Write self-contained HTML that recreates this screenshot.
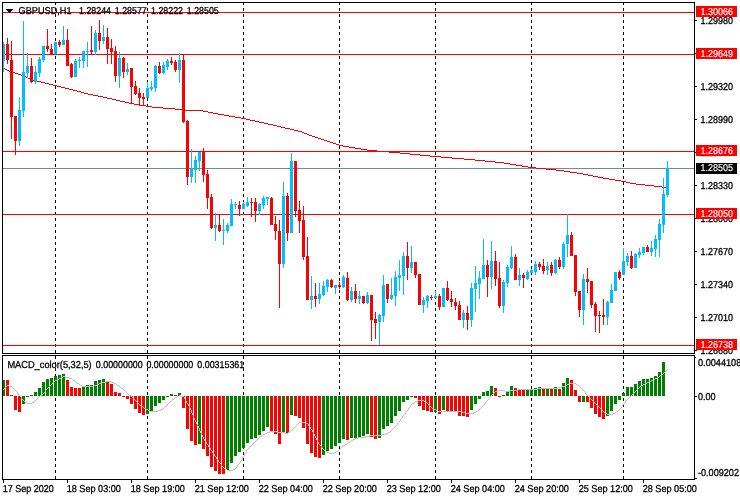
<!DOCTYPE html>
<html lang="en"><head><meta charset="utf-8"><title>GBPUSD H1</title>
<style>html,body{margin:0;padding:0;background:#fff;overflow:hidden}svg{display:block}text{white-space:pre}</style></head>
<body>
<svg width="740" height="500" viewBox="0 0 740 500" style="display:block">
<rect x="0" y="0" width="740" height="500" fill="#ffffff"/>
<g shape-rendering="crispEdges">
<path d="M55.5 2V353" stroke="#000" stroke-width="1" stroke-dasharray="3 3" fill="none"/>
<path d="M55.5 356V479" stroke="#000" stroke-width="1" stroke-dasharray="3 3" fill="none"/>
<path d="M147.5 2V353" stroke="#000" stroke-width="1" stroke-dasharray="3 3" fill="none"/>
<path d="M147.5 356V479" stroke="#000" stroke-width="1" stroke-dasharray="3 3" fill="none"/>
<path d="M243.5 2V353" stroke="#000" stroke-width="1" stroke-dasharray="3 3" fill="none"/>
<path d="M243.5 356V479" stroke="#000" stroke-width="1" stroke-dasharray="3 3" fill="none"/>
<path d="M339.5 2V353" stroke="#000" stroke-width="1" stroke-dasharray="3 3" fill="none"/>
<path d="M339.5 356V479" stroke="#000" stroke-width="1" stroke-dasharray="3 3" fill="none"/>
<path d="M435.5 2V353" stroke="#000" stroke-width="1" stroke-dasharray="3 3" fill="none"/>
<path d="M435.5 356V479" stroke="#000" stroke-width="1" stroke-dasharray="3 3" fill="none"/>
<path d="M531.5 2V353" stroke="#000" stroke-width="1" stroke-dasharray="3 3" fill="none"/>
<path d="M531.5 356V479" stroke="#000" stroke-width="1" stroke-dasharray="3 3" fill="none"/>
<path d="M623.5 2V353" stroke="#000" stroke-width="1" stroke-dasharray="3 3" fill="none"/>
<path d="M623.5 356V479" stroke="#000" stroke-width="1" stroke-dasharray="3 3" fill="none"/>
<rect x="3" y="12" width="691" height="1" fill="#ff0000"/>
<rect x="3" y="54" width="691" height="1" fill="#ff0000"/>
<rect x="3" y="151" width="691" height="1" fill="#ff0000"/>
<rect x="3" y="214" width="691" height="1" fill="#ff0000"/>
<rect x="3" y="345" width="691" height="1" fill="#ff0000"/>
<rect x="3" y="168" width="691" height="1" fill="#778899"/>
<path d="M3 68h2v1h-2zM5 69h2v1h-2zM7 70h2v1h-2zM9 71h3v1h-3zM12 72h3v1h-3zM15 73h3v1h-3zM18 74h3v1h-3zM21 75h3v1h-3zM24 76h2v1h-2zM26 77h2v1h-2zM28 78h2v1h-2zM30 79h3v1h-3zM33 80h4v1h-4zM37 81h4v1h-4zM41 82h4v1h-4zM45 83h4v1h-4zM49 84h4v1h-4zM53 85h4v1h-4zM57 86h4v1h-4zM61 87h4v1h-4zM65 88h4v1h-4zM69 89h4v1h-4zM73 90h4v1h-4zM77 91h4v1h-4zM81 92h3v1h-3zM84 93h4v1h-4zM88 94h5v1h-5zM93 95h5v1h-5zM98 96h5v1h-5zM103 97h4v1h-4zM107 98h5v1h-5zM112 99h4v1h-4zM116 100h4v1h-4zM120 101h5v1h-5zM125 102h4v1h-4zM129 103h5v1h-5zM134 104h6v1h-6zM140 105h6v1h-6zM146 106h6v1h-6zM152 107h11v1h-11zM163 108h12v1h-12zM175 109h10v1h-10zM185 110h18v1h-18zM203 111h5v1h-5zM208 112h5v1h-5zM213 113h5v1h-5zM218 114h6v1h-6zM224 115h5v1h-5zM229 116h6v1h-6zM235 117h6v1h-6zM241 118h5v1h-5zM246 119h4v1h-4zM250 120h5v1h-5zM255 121h4v1h-4zM259 122h5v1h-5zM264 123h4v1h-4zM268 124h5v1h-5zM273 125h4v1h-4zM277 126h4v1h-4zM281 127h4v1h-4zM285 128h5v1h-5zM290 129h4v1h-4zM294 130h4v1h-4zM298 131h4v1h-4zM302 132h2v1h-2zM304 133h3v1h-3zM307 134h2v1h-2zM309 135h3v1h-3zM312 136h3v1h-3zM315 137h3v1h-3zM318 138h3v1h-3zM321 139h3v1h-3zM324 140h3v1h-3zM327 141h3v1h-3zM330 142h3v1h-3zM333 143h3v1h-3zM336 144h3v1h-3zM339 145h4v1h-4zM343 146h6v1h-6zM349 147h6v1h-6zM355 148h6v1h-6zM361 149h6v1h-6zM367 150h10v1h-10zM377 151h12v1h-12zM389 152h11v1h-11zM400 153h10v1h-10zM410 154h10v1h-10zM420 155h10v1h-10zM430 156h11v1h-11zM441 157h11v1h-11zM452 158h12v1h-12zM464 159h11v1h-11zM475 160h10v1h-10zM485 161h10v1h-10zM495 162h9v1h-9zM504 163h6v1h-6zM510 164h6v1h-6zM516 165h6v1h-6zM522 166h6v1h-6zM528 167h8v1h-8zM536 168h10v1h-10zM546 169h10v1h-10zM556 170h8v1h-8zM564 171h6v1h-6zM570 172h7v1h-7zM577 173h6v1h-6zM583 174h5v1h-5zM588 175h5v1h-5zM593 176h5v1h-5zM598 177h5v1h-5zM603 178h6v1h-6zM609 179h6v1h-6zM615 180h6v1h-6zM621 181h5v1h-5zM626 182h4v1h-4zM630 183h6v1h-6zM636 184h9v1h-9zM645 185h9v1h-9zM654 186h8v1h-8zM662 187h5v1h-5z" fill="#ff0000"/>
<rect x="3" y="42" width="1" height="30" fill="#00bfff"/>
<rect x="2" y="44" width="3" height="17" fill="#00bfff"/>
<rect x="7" y="38" width="1" height="26" fill="#ff0000"/>
<rect x="6" y="44" width="3" height="16" fill="#ff0000"/>
<rect x="11" y="41" width="1" height="98" fill="#ff0000"/>
<rect x="10" y="60" width="3" height="57" fill="#ff0000"/>
<rect x="15" y="116" width="1" height="39" fill="#ff0000"/>
<rect x="14" y="116" width="3" height="25" fill="#ff0000"/>
<rect x="19" y="97" width="1" height="49" fill="#00bfff"/>
<rect x="18" y="110" width="3" height="31" fill="#00bfff"/>
<rect x="23" y="21" width="1" height="96" fill="#00bfff"/>
<rect x="22" y="72" width="3" height="39" fill="#00bfff"/>
<rect x="27" y="53" width="1" height="25" fill="#00bfff"/>
<rect x="26" y="66" width="3" height="7" fill="#00bfff"/>
<rect x="31" y="58" width="1" height="25" fill="#ff0000"/>
<rect x="30" y="66" width="3" height="16" fill="#ff0000"/>
<rect x="35" y="66" width="1" height="18" fill="#00bfff"/>
<rect x="34" y="72" width="3" height="10" fill="#00bfff"/>
<rect x="39" y="57" width="1" height="20" fill="#00bfff"/>
<rect x="38" y="59" width="3" height="14" fill="#00bfff"/>
<rect x="43" y="46" width="1" height="16" fill="#00bfff"/>
<rect x="42" y="46" width="3" height="14" fill="#00bfff"/>
<rect x="47" y="29" width="1" height="23" fill="#ff0000"/>
<rect x="46" y="46" width="3" height="3" fill="#ff0000"/>
<rect x="51" y="44" width="1" height="10" fill="#ff0000"/>
<rect x="50" y="49" width="3" height="5" fill="#ff0000"/>
<rect x="55" y="42" width="1" height="12" fill="#00bfff"/>
<rect x="54" y="42" width="3" height="12" fill="#00bfff"/>
<rect x="59" y="40" width="1" height="7" fill="#ff0000"/>
<rect x="58" y="42" width="3" height="3" fill="#ff0000"/>
<rect x="63" y="26" width="1" height="19" fill="#00bfff"/>
<rect x="62" y="40" width="3" height="5" fill="#00bfff"/>
<rect x="67" y="29" width="1" height="37" fill="#ff0000"/>
<rect x="66" y="40" width="3" height="26" fill="#ff0000"/>
<rect x="71" y="63" width="1" height="15" fill="#ff0000"/>
<rect x="70" y="64" width="3" height="13" fill="#ff0000"/>
<rect x="75" y="59" width="1" height="18" fill="#00bfff"/>
<rect x="74" y="61" width="3" height="16" fill="#00bfff"/>
<rect x="79" y="57" width="1" height="11" fill="#00bfff"/>
<rect x="78" y="60" width="3" height="1" fill="#00bfff"/>
<rect x="83" y="51" width="1" height="17" fill="#00bfff"/>
<rect x="82" y="51" width="3" height="10" fill="#00bfff"/>
<rect x="87" y="42" width="1" height="25" fill="#00bfff"/>
<rect x="86" y="51" width="3" height="1" fill="#00bfff"/>
<rect x="91" y="26" width="1" height="28" fill="#ff0000"/>
<rect x="90" y="50" width="3" height="2" fill="#ff0000"/>
<rect x="95" y="30" width="1" height="25" fill="#00bfff"/>
<rect x="94" y="33" width="3" height="19" fill="#00bfff"/>
<rect x="99" y="20" width="1" height="30" fill="#ff0000"/>
<rect x="98" y="33" width="3" height="8" fill="#ff0000"/>
<rect x="103" y="25" width="1" height="19" fill="#00bfff"/>
<rect x="102" y="37" width="3" height="4" fill="#00bfff"/>
<rect x="107" y="28" width="1" height="36" fill="#ff0000"/>
<rect x="106" y="37" width="3" height="12" fill="#ff0000"/>
<rect x="111" y="39" width="1" height="25" fill="#ff0000"/>
<rect x="110" y="48" width="3" height="4" fill="#ff0000"/>
<rect x="115" y="46" width="1" height="36" fill="#ff0000"/>
<rect x="114" y="51" width="3" height="25" fill="#ff0000"/>
<rect x="119" y="52" width="1" height="36" fill="#00bfff"/>
<rect x="118" y="58" width="3" height="18" fill="#00bfff"/>
<rect x="123" y="57" width="1" height="21" fill="#ff0000"/>
<rect x="122" y="58" width="3" height="14" fill="#ff0000"/>
<rect x="127" y="63" width="1" height="12" fill="#00bfff"/>
<rect x="126" y="69" width="3" height="3" fill="#00bfff"/>
<rect x="131" y="68" width="1" height="36" fill="#ff0000"/>
<rect x="130" y="68" width="3" height="19" fill="#ff0000"/>
<rect x="135" y="81" width="1" height="14" fill="#ff0000"/>
<rect x="134" y="86" width="3" height="8" fill="#ff0000"/>
<rect x="139" y="88" width="1" height="18" fill="#ff0000"/>
<rect x="138" y="93" width="3" height="5" fill="#ff0000"/>
<rect x="143" y="93" width="1" height="13" fill="#ff0000"/>
<rect x="142" y="97" width="3" height="2" fill="#ff0000"/>
<rect x="147" y="82" width="1" height="16" fill="#00bfff"/>
<rect x="146" y="88" width="3" height="10" fill="#00bfff"/>
<rect x="151" y="81" width="1" height="10" fill="#00bfff"/>
<rect x="150" y="87" width="3" height="2" fill="#00bfff"/>
<rect x="155" y="65" width="1" height="27" fill="#00bfff"/>
<rect x="154" y="66" width="3" height="22" fill="#00bfff"/>
<rect x="159" y="62" width="1" height="12" fill="#ff0000"/>
<rect x="158" y="66" width="3" height="7" fill="#ff0000"/>
<rect x="163" y="62" width="1" height="12" fill="#00bfff"/>
<rect x="162" y="65" width="3" height="8" fill="#00bfff"/>
<rect x="167" y="59" width="1" height="11" fill="#00bfff"/>
<rect x="166" y="61" width="3" height="6" fill="#00bfff"/>
<rect x="171" y="57" width="1" height="8" fill="#ff0000"/>
<rect x="170" y="61" width="3" height="2" fill="#ff0000"/>
<rect x="175" y="60" width="1" height="12" fill="#ff0000"/>
<rect x="174" y="62" width="3" height="8" fill="#ff0000"/>
<rect x="179" y="53" width="1" height="30" fill="#00bfff"/>
<rect x="178" y="60" width="3" height="10" fill="#00bfff"/>
<rect x="183" y="54" width="1" height="69" fill="#ff0000"/>
<rect x="182" y="60" width="3" height="62" fill="#ff0000"/>
<rect x="187" y="120" width="1" height="65" fill="#ff0000"/>
<rect x="186" y="121" width="3" height="56" fill="#ff0000"/>
<rect x="191" y="149" width="1" height="34" fill="#00bfff"/>
<rect x="190" y="169" width="3" height="8" fill="#00bfff"/>
<rect x="195" y="156" width="1" height="27" fill="#00bfff"/>
<rect x="194" y="160" width="3" height="10" fill="#00bfff"/>
<rect x="199" y="152" width="1" height="19" fill="#00bfff"/>
<rect x="198" y="152" width="3" height="9" fill="#00bfff"/>
<rect x="203" y="148" width="1" height="34" fill="#ff0000"/>
<rect x="202" y="152" width="3" height="23" fill="#ff0000"/>
<rect x="207" y="170" width="1" height="39" fill="#ff0000"/>
<rect x="206" y="174" width="3" height="24" fill="#ff0000"/>
<rect x="211" y="194" width="1" height="35" fill="#ff0000"/>
<rect x="210" y="197" width="3" height="31" fill="#ff0000"/>
<rect x="215" y="213" width="1" height="28" fill="#00bfff"/>
<rect x="214" y="225" width="3" height="3" fill="#00bfff"/>
<rect x="219" y="215" width="1" height="17" fill="#ff0000"/>
<rect x="218" y="225" width="3" height="6" fill="#ff0000"/>
<rect x="223" y="219" width="1" height="26" fill="#00bfff"/>
<rect x="222" y="230" width="3" height="1" fill="#00bfff"/>
<rect x="227" y="223" width="1" height="10" fill="#00bfff"/>
<rect x="226" y="225" width="3" height="6" fill="#00bfff"/>
<rect x="231" y="199" width="1" height="27" fill="#00bfff"/>
<rect x="230" y="204" width="3" height="22" fill="#00bfff"/>
<rect x="235" y="202" width="1" height="7" fill="#00bfff"/>
<rect x="234" y="204" width="3" height="1" fill="#00bfff"/>
<rect x="239" y="201" width="1" height="15" fill="#ff0000"/>
<rect x="238" y="205" width="3" height="4" fill="#ff0000"/>
<rect x="243" y="202" width="1" height="7" fill="#00bfff"/>
<rect x="242" y="204" width="3" height="5" fill="#00bfff"/>
<rect x="247" y="197" width="1" height="10" fill="#00bfff"/>
<rect x="246" y="202" width="3" height="4" fill="#00bfff"/>
<rect x="251" y="198" width="1" height="19" fill="#ff0000"/>
<rect x="250" y="202" width="3" height="1" fill="#ff0000"/>
<rect x="255" y="198" width="1" height="24" fill="#ff0000"/>
<rect x="254" y="202" width="3" height="9" fill="#ff0000"/>
<rect x="259" y="203" width="1" height="12" fill="#00bfff"/>
<rect x="258" y="204" width="3" height="7" fill="#00bfff"/>
<rect x="263" y="196" width="1" height="13" fill="#00bfff"/>
<rect x="262" y="198" width="3" height="7" fill="#00bfff"/>
<rect x="267" y="197" width="1" height="8" fill="#00bfff"/>
<rect x="266" y="197" width="3" height="2" fill="#00bfff"/>
<rect x="271" y="197" width="1" height="28" fill="#ff0000"/>
<rect x="270" y="198" width="3" height="27" fill="#ff0000"/>
<rect x="275" y="216" width="1" height="24" fill="#ff0000"/>
<rect x="274" y="224" width="3" height="7" fill="#ff0000"/>
<rect x="279" y="220" width="1" height="88" fill="#ff0000"/>
<rect x="278" y="231" width="3" height="33" fill="#ff0000"/>
<rect x="283" y="182" width="1" height="86" fill="#00bfff"/>
<rect x="282" y="196" width="3" height="68" fill="#00bfff"/>
<rect x="287" y="193" width="1" height="48" fill="#ff0000"/>
<rect x="286" y="196" width="3" height="37" fill="#ff0000"/>
<rect x="291" y="153" width="1" height="80" fill="#00bfff"/>
<rect x="290" y="161" width="3" height="72" fill="#00bfff"/>
<rect x="295" y="161" width="1" height="56" fill="#ff0000"/>
<rect x="294" y="161" width="3" height="50" fill="#ff0000"/>
<rect x="299" y="201" width="1" height="32" fill="#ff0000"/>
<rect x="298" y="210" width="3" height="11" fill="#ff0000"/>
<rect x="303" y="206" width="1" height="54" fill="#ff0000"/>
<rect x="302" y="220" width="3" height="37" fill="#ff0000"/>
<rect x="307" y="237" width="1" height="63" fill="#ff0000"/>
<rect x="306" y="256" width="3" height="44" fill="#ff0000"/>
<rect x="311" y="276" width="1" height="33" fill="#00bfff"/>
<rect x="310" y="296" width="3" height="4" fill="#00bfff"/>
<rect x="315" y="283" width="1" height="24" fill="#ff0000"/>
<rect x="314" y="296" width="3" height="3" fill="#ff0000"/>
<rect x="319" y="283" width="1" height="21" fill="#00bfff"/>
<rect x="318" y="294" width="3" height="5" fill="#00bfff"/>
<rect x="323" y="281" width="1" height="15" fill="#00bfff"/>
<rect x="322" y="286" width="3" height="9" fill="#00bfff"/>
<rect x="327" y="279" width="1" height="13" fill="#00bfff"/>
<rect x="326" y="280" width="3" height="7" fill="#00bfff"/>
<rect x="331" y="279" width="1" height="9" fill="#ff0000"/>
<rect x="330" y="280" width="3" height="7" fill="#ff0000"/>
<rect x="335" y="285" width="1" height="9" fill="#00bfff"/>
<rect x="334" y="285" width="3" height="3" fill="#00bfff"/>
<rect x="339" y="282" width="1" height="7" fill="#ff0000"/>
<rect x="338" y="285" width="3" height="2" fill="#ff0000"/>
<rect x="343" y="275" width="1" height="13" fill="#00bfff"/>
<rect x="342" y="277" width="3" height="10" fill="#00bfff"/>
<rect x="347" y="272" width="1" height="29" fill="#ff0000"/>
<rect x="346" y="278" width="3" height="22" fill="#ff0000"/>
<rect x="351" y="287" width="1" height="15" fill="#00bfff"/>
<rect x="350" y="291" width="3" height="9" fill="#00bfff"/>
<rect x="355" y="284" width="1" height="19" fill="#ff0000"/>
<rect x="354" y="291" width="3" height="8" fill="#ff0000"/>
<rect x="359" y="291" width="1" height="13" fill="#00bfff"/>
<rect x="358" y="296" width="3" height="3" fill="#00bfff"/>
<rect x="363" y="296" width="1" height="8" fill="#ff0000"/>
<rect x="362" y="296" width="3" height="7" fill="#ff0000"/>
<rect x="367" y="292" width="1" height="12" fill="#00bfff"/>
<rect x="366" y="295" width="3" height="8" fill="#00bfff"/>
<rect x="371" y="295" width="1" height="46" fill="#ff0000"/>
<rect x="370" y="295" width="3" height="25" fill="#ff0000"/>
<rect x="375" y="312" width="1" height="27" fill="#ff0000"/>
<rect x="374" y="319" width="3" height="4" fill="#ff0000"/>
<rect x="379" y="314" width="1" height="31" fill="#00bfff"/>
<rect x="378" y="315" width="3" height="7" fill="#00bfff"/>
<rect x="383" y="275" width="1" height="47" fill="#00bfff"/>
<rect x="382" y="285" width="3" height="31" fill="#00bfff"/>
<rect x="387" y="284" width="1" height="19" fill="#ff0000"/>
<rect x="386" y="284" width="3" height="15" fill="#ff0000"/>
<rect x="391" y="278" width="1" height="22" fill="#00bfff"/>
<rect x="390" y="295" width="3" height="4" fill="#00bfff"/>
<rect x="395" y="271" width="1" height="35" fill="#00bfff"/>
<rect x="394" y="277" width="3" height="19" fill="#00bfff"/>
<rect x="399" y="260" width="1" height="31" fill="#00bfff"/>
<rect x="398" y="275" width="3" height="3" fill="#00bfff"/>
<rect x="403" y="252" width="1" height="43" fill="#00bfff"/>
<rect x="402" y="256" width="3" height="20" fill="#00bfff"/>
<rect x="407" y="242" width="1" height="38" fill="#ff0000"/>
<rect x="406" y="256" width="3" height="12" fill="#ff0000"/>
<rect x="411" y="246" width="1" height="27" fill="#00bfff"/>
<rect x="410" y="262" width="3" height="6" fill="#00bfff"/>
<rect x="415" y="262" width="1" height="16" fill="#ff0000"/>
<rect x="414" y="262" width="3" height="13" fill="#ff0000"/>
<rect x="419" y="274" width="1" height="31" fill="#ff0000"/>
<rect x="418" y="274" width="3" height="31" fill="#ff0000"/>
<rect x="423" y="297" width="1" height="16" fill="#00bfff"/>
<rect x="422" y="300" width="3" height="5" fill="#00bfff"/>
<rect x="427" y="295" width="1" height="13" fill="#00bfff"/>
<rect x="426" y="296" width="3" height="5" fill="#00bfff"/>
<rect x="431" y="295" width="1" height="5" fill="#ff0000"/>
<rect x="430" y="297" width="3" height="1" fill="#ff0000"/>
<rect x="435" y="291" width="1" height="7" fill="#00bfff"/>
<rect x="434" y="296" width="3" height="2" fill="#00bfff"/>
<rect x="439" y="294" width="1" height="16" fill="#ff0000"/>
<rect x="438" y="296" width="3" height="11" fill="#ff0000"/>
<rect x="443" y="288" width="1" height="19" fill="#00bfff"/>
<rect x="442" y="288" width="3" height="19" fill="#00bfff"/>
<rect x="447" y="281" width="1" height="20" fill="#ff0000"/>
<rect x="446" y="288" width="3" height="12" fill="#ff0000"/>
<rect x="451" y="291" width="1" height="16" fill="#ff0000"/>
<rect x="450" y="299" width="3" height="3" fill="#ff0000"/>
<rect x="455" y="298" width="1" height="12" fill="#ff0000"/>
<rect x="454" y="302" width="3" height="4" fill="#ff0000"/>
<rect x="459" y="301" width="1" height="19" fill="#ff0000"/>
<rect x="458" y="305" width="3" height="15" fill="#ff0000"/>
<rect x="463" y="310" width="1" height="18" fill="#00bfff"/>
<rect x="462" y="313" width="3" height="7" fill="#00bfff"/>
<rect x="467" y="306" width="1" height="24" fill="#ff0000"/>
<rect x="466" y="313" width="3" height="7" fill="#ff0000"/>
<rect x="471" y="283" width="1" height="44" fill="#00bfff"/>
<rect x="470" y="288" width="3" height="32" fill="#00bfff"/>
<rect x="475" y="266" width="1" height="46" fill="#00bfff"/>
<rect x="474" y="283" width="3" height="6" fill="#00bfff"/>
<rect x="479" y="271" width="1" height="28" fill="#00bfff"/>
<rect x="478" y="278" width="3" height="6" fill="#00bfff"/>
<rect x="483" y="239" width="1" height="40" fill="#00bfff"/>
<rect x="482" y="265" width="3" height="14" fill="#00bfff"/>
<rect x="487" y="260" width="1" height="37" fill="#ff0000"/>
<rect x="486" y="265" width="3" height="12" fill="#ff0000"/>
<rect x="491" y="241" width="1" height="48" fill="#00bfff"/>
<rect x="490" y="261" width="3" height="16" fill="#00bfff"/>
<rect x="495" y="251" width="1" height="35" fill="#ff0000"/>
<rect x="494" y="261" width="3" height="18" fill="#ff0000"/>
<rect x="499" y="262" width="1" height="46" fill="#ff0000"/>
<rect x="498" y="278" width="3" height="28" fill="#ff0000"/>
<rect x="503" y="280" width="1" height="33" fill="#00bfff"/>
<rect x="502" y="282" width="3" height="24" fill="#00bfff"/>
<rect x="507" y="265" width="1" height="22" fill="#00bfff"/>
<rect x="506" y="267" width="3" height="16" fill="#00bfff"/>
<rect x="511" y="246" width="1" height="23" fill="#00bfff"/>
<rect x="510" y="257" width="3" height="11" fill="#00bfff"/>
<rect x="515" y="254" width="1" height="26" fill="#ff0000"/>
<rect x="514" y="257" width="3" height="23" fill="#ff0000"/>
<rect x="519" y="268" width="1" height="18" fill="#00bfff"/>
<rect x="518" y="275" width="3" height="5" fill="#00bfff"/>
<rect x="523" y="273" width="1" height="15" fill="#ff0000"/>
<rect x="522" y="275" width="3" height="3" fill="#ff0000"/>
<rect x="527" y="270" width="1" height="10" fill="#00bfff"/>
<rect x="526" y="272" width="3" height="7" fill="#00bfff"/>
<rect x="531" y="269" width="1" height="4" fill="#00bfff"/>
<rect x="530" y="270" width="3" height="3" fill="#00bfff"/>
<rect x="535" y="261" width="1" height="14" fill="#00bfff"/>
<rect x="534" y="264" width="3" height="8" fill="#00bfff"/>
<rect x="539" y="262" width="1" height="8" fill="#ff0000"/>
<rect x="538" y="264" width="3" height="3" fill="#ff0000"/>
<rect x="543" y="259" width="1" height="15" fill="#ff0000"/>
<rect x="542" y="266" width="3" height="5" fill="#ff0000"/>
<rect x="547" y="262" width="1" height="13" fill="#00bfff"/>
<rect x="546" y="266" width="3" height="4" fill="#00bfff"/>
<rect x="551" y="262" width="1" height="14" fill="#ff0000"/>
<rect x="550" y="265" width="3" height="8" fill="#ff0000"/>
<rect x="555" y="259" width="1" height="15" fill="#00bfff"/>
<rect x="554" y="260" width="3" height="13" fill="#00bfff"/>
<rect x="559" y="257" width="1" height="12" fill="#ff0000"/>
<rect x="558" y="260" width="3" height="7" fill="#ff0000"/>
<rect x="563" y="242" width="1" height="27" fill="#00bfff"/>
<rect x="562" y="244" width="3" height="23" fill="#00bfff"/>
<rect x="567" y="214" width="1" height="43" fill="#00bfff"/>
<rect x="566" y="235" width="3" height="9" fill="#00bfff"/>
<rect x="571" y="232" width="1" height="24" fill="#ff0000"/>
<rect x="570" y="235" width="3" height="21" fill="#ff0000"/>
<rect x="575" y="255" width="1" height="41" fill="#ff0000"/>
<rect x="574" y="255" width="3" height="37" fill="#ff0000"/>
<rect x="579" y="291" width="1" height="26" fill="#ff0000"/>
<rect x="578" y="291" width="3" height="19" fill="#ff0000"/>
<rect x="583" y="274" width="1" height="51" fill="#00bfff"/>
<rect x="582" y="279" width="3" height="31" fill="#00bfff"/>
<rect x="587" y="268" width="1" height="25" fill="#ff0000"/>
<rect x="586" y="279" width="3" height="3" fill="#ff0000"/>
<rect x="591" y="281" width="1" height="27" fill="#ff0000"/>
<rect x="590" y="281" width="3" height="24" fill="#ff0000"/>
<rect x="595" y="302" width="1" height="30" fill="#ff0000"/>
<rect x="594" y="304" width="3" height="12" fill="#ff0000"/>
<rect x="599" y="311" width="1" height="22" fill="#ff0000"/>
<rect x="598" y="315" width="3" height="1" fill="#ff0000"/>
<rect x="603" y="299" width="1" height="26" fill="#ff0000"/>
<rect x="602" y="315" width="3" height="2" fill="#ff0000"/>
<rect x="607" y="301" width="1" height="24" fill="#00bfff"/>
<rect x="606" y="302" width="3" height="15" fill="#00bfff"/>
<rect x="611" y="284" width="1" height="19" fill="#00bfff"/>
<rect x="610" y="290" width="3" height="13" fill="#00bfff"/>
<rect x="615" y="272" width="1" height="19" fill="#00bfff"/>
<rect x="614" y="272" width="3" height="19" fill="#00bfff"/>
<rect x="619" y="270" width="1" height="10" fill="#ff0000"/>
<rect x="618" y="272" width="3" height="6" fill="#ff0000"/>
<rect x="623" y="248" width="1" height="27" fill="#00bfff"/>
<rect x="622" y="261" width="3" height="14" fill="#00bfff"/>
<rect x="627" y="253" width="1" height="13" fill="#00bfff"/>
<rect x="626" y="256" width="3" height="6" fill="#00bfff"/>
<rect x="631" y="251" width="1" height="18" fill="#ff0000"/>
<rect x="630" y="256" width="3" height="12" fill="#ff0000"/>
<rect x="635" y="253" width="1" height="15" fill="#00bfff"/>
<rect x="634" y="254" width="3" height="14" fill="#00bfff"/>
<rect x="639" y="248" width="1" height="10" fill="#00bfff"/>
<rect x="638" y="252" width="3" height="3" fill="#00bfff"/>
<rect x="643" y="247" width="1" height="8" fill="#00bfff"/>
<rect x="642" y="247" width="3" height="6" fill="#00bfff"/>
<rect x="647" y="245" width="1" height="7" fill="#ff0000"/>
<rect x="646" y="247" width="3" height="5" fill="#ff0000"/>
<rect x="651" y="241" width="1" height="15" fill="#00bfff"/>
<rect x="650" y="248" width="3" height="4" fill="#00bfff"/>
<rect x="655" y="235" width="1" height="22" fill="#00bfff"/>
<rect x="654" y="239" width="3" height="10" fill="#00bfff"/>
<rect x="659" y="219" width="1" height="38" fill="#00bfff"/>
<rect x="658" y="224" width="3" height="16" fill="#00bfff"/>
<rect x="663" y="178" width="1" height="55" fill="#00bfff"/>
<rect x="662" y="194" width="3" height="31" fill="#00bfff"/>
<rect x="667" y="161" width="1" height="36" fill="#00bfff"/>
<rect x="666" y="168" width="3" height="27" fill="#00bfff"/>
<rect x="2" y="380" width="3" height="16" fill="#008000"/>
<rect x="6" y="380" width="3" height="16" fill="#ff0000"/>
<rect x="10" y="395" width="3" height="1" fill="#ff0000"/>
<rect x="14" y="396" width="3" height="14" fill="#ff0000"/>
<rect x="18" y="396" width="3" height="16" fill="#ff0000"/>
<rect x="22" y="396" width="3" height="8" fill="#008000"/>
<rect x="26" y="396" width="3" height="1" fill="#008000"/>
<rect x="30" y="395" width="3" height="1" fill="#008000"/>
<rect x="34" y="392" width="3" height="4" fill="#008000"/>
<rect x="38" y="388" width="3" height="8" fill="#008000"/>
<rect x="42" y="382" width="3" height="14" fill="#008000"/>
<rect x="46" y="379" width="3" height="17" fill="#008000"/>
<rect x="50" y="378" width="3" height="18" fill="#008000"/>
<rect x="54" y="376" width="3" height="20" fill="#008000"/>
<rect x="58" y="375" width="3" height="21" fill="#008000"/>
<rect x="62" y="374" width="3" height="22" fill="#008000"/>
<rect x="66" y="380" width="3" height="16" fill="#ff0000"/>
<rect x="70" y="387" width="3" height="9" fill="#ff0000"/>
<rect x="74" y="388" width="3" height="8" fill="#ff0000"/>
<rect x="78" y="388" width="3" height="8" fill="#ff0000"/>
<rect x="82" y="386" width="3" height="10" fill="#008000"/>
<rect x="86" y="385" width="3" height="11" fill="#008000"/>
<rect x="90" y="385" width="3" height="11" fill="#008000"/>
<rect x="94" y="381" width="3" height="15" fill="#008000"/>
<rect x="98" y="380" width="3" height="16" fill="#008000"/>
<rect x="102" y="379" width="3" height="17" fill="#008000"/>
<rect x="106" y="382" width="3" height="14" fill="#ff0000"/>
<rect x="110" y="384" width="3" height="12" fill="#ff0000"/>
<rect x="114" y="392" width="3" height="4" fill="#ff0000"/>
<rect x="118" y="393" width="3" height="3" fill="#ff0000"/>
<rect x="122" y="396" width="3" height="1" fill="#ff0000"/>
<rect x="126" y="396" width="3" height="3" fill="#ff0000"/>
<rect x="130" y="396" width="3" height="8" fill="#ff0000"/>
<rect x="134" y="396" width="3" height="13" fill="#ff0000"/>
<rect x="138" y="396" width="3" height="17" fill="#ff0000"/>
<rect x="142" y="396" width="3" height="19" fill="#ff0000"/>
<rect x="146" y="396" width="3" height="18" fill="#008000"/>
<rect x="150" y="396" width="3" height="16" fill="#008000"/>
<rect x="154" y="396" width="3" height="10" fill="#008000"/>
<rect x="158" y="396" width="3" height="7" fill="#008000"/>
<rect x="162" y="396" width="3" height="4" fill="#008000"/>
<rect x="166" y="396" width="3" height="1" fill="#008000"/>
<rect x="170" y="394" width="3" height="2" fill="#008000"/>
<rect x="174" y="395" width="3" height="1" fill="#ff0000"/>
<rect x="178" y="393" width="3" height="3" fill="#008000"/>
<rect x="182" y="396" width="3" height="12" fill="#ff0000"/>
<rect x="186" y="396" width="3" height="33" fill="#ff0000"/>
<rect x="190" y="396" width="3" height="45" fill="#ff0000"/>
<rect x="194" y="396" width="3" height="49" fill="#ff0000"/>
<rect x="198" y="396" width="3" height="48" fill="#008000"/>
<rect x="202" y="396" width="3" height="53" fill="#ff0000"/>
<rect x="206" y="396" width="3" height="60" fill="#ff0000"/>
<rect x="210" y="396" width="3" height="71" fill="#ff0000"/>
<rect x="214" y="396" width="3" height="75" fill="#ff0000"/>
<rect x="218" y="396" width="3" height="78" fill="#ff0000"/>
<rect x="222" y="396" width="3" height="78" fill="#ff0000"/>
<rect x="226" y="396" width="3" height="74" fill="#008000"/>
<rect x="230" y="396" width="3" height="67" fill="#008000"/>
<rect x="234" y="396" width="3" height="60" fill="#008000"/>
<rect x="238" y="396" width="3" height="56" fill="#008000"/>
<rect x="242" y="396" width="3" height="52" fill="#008000"/>
<rect x="246" y="396" width="3" height="47" fill="#008000"/>
<rect x="250" y="396" width="3" height="43" fill="#008000"/>
<rect x="254" y="396" width="3" height="42" fill="#008000"/>
<rect x="258" y="396" width="3" height="39" fill="#008000"/>
<rect x="262" y="396" width="3" height="35" fill="#008000"/>
<rect x="266" y="396" width="3" height="31" fill="#008000"/>
<rect x="270" y="396" width="3" height="35" fill="#ff0000"/>
<rect x="274" y="396" width="3" height="38" fill="#ff0000"/>
<rect x="278" y="396" width="3" height="48" fill="#ff0000"/>
<rect x="282" y="396" width="3" height="36" fill="#008000"/>
<rect x="286" y="396" width="3" height="37" fill="#ff0000"/>
<rect x="290" y="396" width="3" height="19" fill="#008000"/>
<rect x="294" y="396" width="3" height="20" fill="#ff0000"/>
<rect x="298" y="396" width="3" height="22" fill="#ff0000"/>
<rect x="302" y="396" width="3" height="32" fill="#ff0000"/>
<rect x="306" y="396" width="3" height="48" fill="#ff0000"/>
<rect x="310" y="396" width="3" height="57" fill="#ff0000"/>
<rect x="314" y="396" width="3" height="61" fill="#ff0000"/>
<rect x="318" y="396" width="3" height="62" fill="#ff0000"/>
<rect x="322" y="396" width="3" height="59" fill="#008000"/>
<rect x="326" y="396" width="3" height="55" fill="#008000"/>
<rect x="330" y="396" width="3" height="53" fill="#008000"/>
<rect x="334" y="396" width="3" height="50" fill="#008000"/>
<rect x="338" y="396" width="3" height="47" fill="#008000"/>
<rect x="342" y="396" width="3" height="43" fill="#008000"/>
<rect x="346" y="396" width="3" height="44" fill="#ff0000"/>
<rect x="350" y="396" width="3" height="42" fill="#008000"/>
<rect x="354" y="396" width="3" height="42" fill="#008000"/>
<rect x="358" y="396" width="3" height="41" fill="#008000"/>
<rect x="362" y="396" width="3" height="40" fill="#008000"/>
<rect x="366" y="396" width="3" height="38" fill="#008000"/>
<rect x="370" y="396" width="3" height="41" fill="#ff0000"/>
<rect x="374" y="396" width="3" height="43" fill="#ff0000"/>
<rect x="378" y="396" width="3" height="42" fill="#008000"/>
<rect x="382" y="396" width="3" height="33" fill="#008000"/>
<rect x="386" y="396" width="3" height="30" fill="#008000"/>
<rect x="390" y="396" width="3" height="27" fill="#008000"/>
<rect x="394" y="396" width="3" height="20" fill="#008000"/>
<rect x="398" y="396" width="3" height="15" fill="#008000"/>
<rect x="402" y="396" width="3" height="6" fill="#008000"/>
<rect x="406" y="396" width="3" height="4" fill="#008000"/>
<rect x="410" y="396" width="3" height="1" fill="#008000"/>
<rect x="414" y="396" width="3" height="2" fill="#ff0000"/>
<rect x="418" y="396" width="3" height="10" fill="#ff0000"/>
<rect x="422" y="396" width="3" height="14" fill="#ff0000"/>
<rect x="426" y="396" width="3" height="15" fill="#ff0000"/>
<rect x="430" y="396" width="3" height="16" fill="#ff0000"/>
<rect x="434" y="396" width="3" height="16" fill="#008000"/>
<rect x="438" y="396" width="3" height="18" fill="#ff0000"/>
<rect x="442" y="396" width="3" height="14" fill="#008000"/>
<rect x="446" y="396" width="3" height="15" fill="#ff0000"/>
<rect x="450" y="396" width="3" height="15" fill="#ff0000"/>
<rect x="454" y="396" width="3" height="15" fill="#ff0000"/>
<rect x="458" y="396" width="3" height="20" fill="#ff0000"/>
<rect x="462" y="396" width="3" height="20" fill="#ff0000"/>
<rect x="466" y="396" width="3" height="21" fill="#ff0000"/>
<rect x="470" y="396" width="3" height="14" fill="#008000"/>
<rect x="474" y="396" width="3" height="8" fill="#008000"/>
<rect x="478" y="396" width="3" height="3" fill="#008000"/>
<rect x="482" y="392" width="3" height="4" fill="#008000"/>
<rect x="486" y="391" width="3" height="5" fill="#008000"/>
<rect x="490" y="386" width="3" height="10" fill="#008000"/>
<rect x="494" y="388" width="3" height="8" fill="#ff0000"/>
<rect x="498" y="396" width="3" height="1" fill="#ff0000"/>
<rect x="502" y="395" width="3" height="1" fill="#008000"/>
<rect x="506" y="392" width="3" height="4" fill="#008000"/>
<rect x="510" y="386" width="3" height="10" fill="#008000"/>
<rect x="514" y="388" width="3" height="8" fill="#ff0000"/>
<rect x="518" y="389" width="3" height="7" fill="#ff0000"/>
<rect x="522" y="390" width="3" height="6" fill="#ff0000"/>
<rect x="526" y="390" width="3" height="6" fill="#008000"/>
<rect x="530" y="389" width="3" height="7" fill="#008000"/>
<rect x="534" y="388" width="3" height="8" fill="#008000"/>
<rect x="538" y="387" width="3" height="9" fill="#008000"/>
<rect x="542" y="389" width="3" height="7" fill="#ff0000"/>
<rect x="546" y="389" width="3" height="7" fill="#008000"/>
<rect x="550" y="389" width="3" height="7" fill="#ff0000"/>
<rect x="554" y="387" width="3" height="9" fill="#008000"/>
<rect x="558" y="389" width="3" height="7" fill="#ff0000"/>
<rect x="562" y="383" width="3" height="13" fill="#008000"/>
<rect x="566" y="378" width="3" height="18" fill="#008000"/>
<rect x="570" y="380" width="3" height="16" fill="#ff0000"/>
<rect x="574" y="390" width="3" height="6" fill="#ff0000"/>
<rect x="578" y="396" width="3" height="6" fill="#ff0000"/>
<rect x="582" y="396" width="3" height="6" fill="#008000"/>
<rect x="586" y="396" width="3" height="6" fill="#ff0000"/>
<rect x="590" y="396" width="3" height="12" fill="#ff0000"/>
<rect x="594" y="396" width="3" height="18" fill="#ff0000"/>
<rect x="598" y="396" width="3" height="21" fill="#ff0000"/>
<rect x="602" y="396" width="3" height="23" fill="#ff0000"/>
<rect x="606" y="396" width="3" height="20" fill="#008000"/>
<rect x="610" y="396" width="3" height="15" fill="#008000"/>
<rect x="614" y="396" width="3" height="8" fill="#008000"/>
<rect x="618" y="396" width="3" height="4" fill="#008000"/>
<rect x="622" y="393" width="3" height="3" fill="#008000"/>
<rect x="626" y="387" width="3" height="9" fill="#008000"/>
<rect x="630" y="387" width="3" height="9" fill="#008000"/>
<rect x="634" y="384" width="3" height="12" fill="#008000"/>
<rect x="638" y="381" width="3" height="15" fill="#008000"/>
<rect x="642" y="379" width="3" height="17" fill="#008000"/>
<rect x="646" y="379" width="3" height="17" fill="#008000"/>
<rect x="650" y="378" width="3" height="18" fill="#008000"/>
<rect x="654" y="376" width="3" height="20" fill="#008000"/>
<rect x="658" y="372" width="3" height="24" fill="#008000"/>
<rect x="662" y="362" width="3" height="34" fill="#008000"/>
<path d="M667 369h1v1h-1zM666 370h1v1h-1zM665 371h1v1h-1zM664 372h1v1h-1zM663 373h1v1h-1zM662 374h1v1h-1zM660 375h2v1h-2zM63 376h2v1h-2zM659 376h1v1h-1zM61 377h2v1h-2zM65 377h4v1h-4zM657 377h2v1h-2zM59 378h2v1h-2zM69 378h3v1h-3zM655 378h2v1h-2zM57 379h2v1h-2zM72 379h1v1h-1zM653 379h2v1h-2zM55 380h2v1h-2zM73 380h2v1h-2zM651 380h2v1h-2zM54 381h1v1h-1zM75 381h1v1h-1zM106 381h6v1h-6zM649 381h2v1h-2zM53 382h1v1h-1zM76 382h1v1h-1zM102 382h4v1h-4zM112 382h2v1h-2zM647 382h2v1h-2zM52 383h1v1h-1zM77 383h2v1h-2zM99 383h3v1h-3zM114 383h2v1h-2zM570 383h6v1h-6zM645 383h2v1h-2zM51 384h1v1h-1zM79 384h1v1h-1zM97 384h2v1h-2zM116 384h1v1h-1zM567 384h3v1h-3zM576 384h1v1h-1zM643 384h2v1h-2zM7 385h2v1h-2zM50 385h1v1h-1zM80 385h2v1h-2zM94 385h3v1h-3zM117 385h2v1h-2zM565 385h2v1h-2zM577 385h2v1h-2zM642 385h1v1h-1zM6 386h1v1h-1zM9 386h3v1h-3zM49 386h1v1h-1zM82 386h12v1h-12zM119 386h1v1h-1zM562 386h3v1h-3zM579 386h1v1h-1zM640 386h2v1h-2zM5 387h1v1h-1zM12 387h1v1h-1zM48 387h1v1h-1zM120 387h1v1h-1zM558 387h4v1h-4zM580 387h1v1h-1zM639 387h1v1h-1zM4 388h1v1h-1zM13 388h1v1h-1zM47 388h1v1h-1zM121 388h2v1h-2zM538 388h20v1h-20zM581 388h1v1h-1zM638 388h1v1h-1zM3 389h1v1h-1zM14 389h1v1h-1zM46 389h1v1h-1zM123 389h1v1h-1zM518 389h20v1h-20zM582 389h1v1h-1zM637 389h1v1h-1zM15 390h1v1h-1zM45 390h1v1h-1zM124 390h1v1h-1zM498 390h7v1h-7zM510 390h8v1h-8zM583 390h1v1h-1zM636 390h1v1h-1zM16 391h1v1h-1zM45 391h1v1h-1zM125 391h1v1h-1zM495 391h3v1h-3zM505 391h5v1h-5zM584 391h1v1h-1zM635 391h1v1h-1zM17 392h1v1h-1zM44 392h1v1h-1zM126 392h1v1h-1zM494 392h1v1h-1zM585 392h1v1h-1zM634 392h1v1h-1zM17 393h1v1h-1zM43 393h1v1h-1zM127 393h1v1h-1zM493 393h1v1h-1zM585 393h1v1h-1zM633 393h1v1h-1zM18 394h1v1h-1zM42 394h1v1h-1zM128 394h1v1h-1zM492 394h1v1h-1zM586 394h1v1h-1zM632 394h1v1h-1zM19 395h1v1h-1zM40 395h2v1h-2zM129 395h2v1h-2zM179 395h2v1h-2zM491 395h1v1h-1zM587 395h1v1h-1zM631 395h1v1h-1zM20 396h1v1h-1zM39 396h1v1h-1zM131 396h1v1h-1zM177 396h2v1h-2zM181 396h3v1h-3zM490 396h1v1h-1zM588 396h1v1h-1zM630 396h1v1h-1zM21 397h1v1h-1zM38 397h1v1h-1zM132 397h1v1h-1zM175 397h2v1h-2zM184 397h1v1h-1zM489 397h1v1h-1zM589 397h1v1h-1zM629 397h1v1h-1zM21 398h1v1h-1zM37 398h1v1h-1zM133 398h1v1h-1zM174 398h1v1h-1zM184 398h1v1h-1zM489 398h1v1h-1zM590 398h1v1h-1zM628 398h1v1h-1zM22 399h1v1h-1zM36 399h1v1h-1zM134 399h1v1h-1zM172 399h2v1h-2zM185 399h1v1h-1zM488 399h1v1h-1zM591 399h1v1h-1zM627 399h1v1h-1zM23 400h1v1h-1zM35 400h1v1h-1zM135 400h1v1h-1zM171 400h1v1h-1zM185 400h1v1h-1zM418 400h6v1h-6zM487 400h1v1h-1zM592 400h1v1h-1zM626 400h1v1h-1zM24 401h1v1h-1zM34 401h1v1h-1zM136 401h1v1h-1zM170 401h1v1h-1zM186 401h1v1h-1zM415 401h3v1h-3zM424 401h1v1h-1zM486 401h1v1h-1zM593 401h1v1h-1zM625 401h1v1h-1zM25 402h2v1h-2zM32 402h2v1h-2zM137 402h1v1h-1zM169 402h1v1h-1zM186 402h1v1h-1zM414 402h1v1h-1zM425 402h2v1h-2zM485 402h1v1h-1zM594 402h1v1h-1zM625 402h1v1h-1zM27 403h5v1h-5zM138 403h1v1h-1zM168 403h1v1h-1zM187 403h1v1h-1zM412 403h2v1h-2zM427 403h1v1h-1zM485 403h1v1h-1zM595 403h1v1h-1zM624 403h1v1h-1zM139 404h1v1h-1zM167 404h1v1h-1zM188 404h1v1h-1zM411 404h1v1h-1zM428 404h1v1h-1zM484 404h1v1h-1zM596 404h1v1h-1zM623 404h1v1h-1zM140 405h1v1h-1zM166 405h1v1h-1zM188 405h1v1h-1zM410 405h1v1h-1zM429 405h1v1h-1zM483 405h1v1h-1zM597 405h1v1h-1zM622 405h1v1h-1zM141 406h2v1h-2zM165 406h1v1h-1zM189 406h1v1h-1zM410 406h1v1h-1zM430 406h1v1h-1zM482 406h1v1h-1zM598 406h1v1h-1zM621 406h1v1h-1zM143 407h1v1h-1zM164 407h1v1h-1zM189 407h1v1h-1zM409 407h1v1h-1zM431 407h1v1h-1zM481 407h1v1h-1zM599 407h1v1h-1zM621 407h1v1h-1zM144 408h2v1h-2zM163 408h1v1h-1zM190 408h1v1h-1zM408 408h1v1h-1zM432 408h2v1h-2zM480 408h1v1h-1zM600 408h1v1h-1zM620 408h1v1h-1zM146 409h2v1h-2zM161 409h2v1h-2zM190 409h1v1h-1zM408 409h1v1h-1zM434 409h2v1h-2zM479 409h1v1h-1zM601 409h1v1h-1zM619 409h1v1h-1zM148 410h2v1h-2zM158 410h3v1h-3zM191 410h1v1h-1zM407 410h1v1h-1zM436 410h2v1h-2zM478 410h1v1h-1zM602 410h1v1h-1zM618 410h1v1h-1zM150 411h8v1h-8zM191 411h1v1h-1zM406 411h1v1h-1zM438 411h23v1h-23zM476 411h2v1h-2zM603 411h1v1h-1zM616 411h2v1h-2zM191 412h1v1h-1zM405 412h1v1h-1zM461 412h4v1h-4zM474 412h2v1h-2zM604 412h1v1h-1zM615 412h1v1h-1zM192 413h1v1h-1zM405 413h1v1h-1zM465 413h9v1h-9zM605 413h2v1h-2zM613 413h2v1h-2zM192 414h1v1h-1zM404 414h1v1h-1zM607 414h6v1h-6zM193 415h1v1h-1zM403 415h1v1h-1zM193 416h1v1h-1zM402 416h1v1h-1zM193 417h1v1h-1zM402 417h1v1h-1zM194 418h1v1h-1zM401 418h1v1h-1zM194 419h1v1h-1zM400 419h1v1h-1zM195 420h1v1h-1zM400 420h1v1h-1zM195 421h1v1h-1zM399 421h1v1h-1zM196 422h1v1h-1zM299 422h6v1h-6zM398 422h1v1h-1zM196 423h1v1h-1zM298 423h1v1h-1zM305 423h3v1h-3zM397 423h1v1h-1zM197 424h1v1h-1zM297 424h1v1h-1zM308 424h1v1h-1zM397 424h1v1h-1zM197 425h1v1h-1zM296 425h1v1h-1zM308 425h1v1h-1zM396 425h1v1h-1zM198 426h1v1h-1zM295 426h1v1h-1zM309 426h1v1h-1zM395 426h1v1h-1zM198 427h1v1h-1zM294 427h1v1h-1zM310 427h1v1h-1zM394 427h1v1h-1zM199 428h1v1h-1zM293 428h1v1h-1zM310 428h1v1h-1zM393 428h1v1h-1zM199 429h1v1h-1zM292 429h1v1h-1zM311 429h1v1h-1zM392 429h1v1h-1zM199 430h1v1h-1zM291 430h1v1h-1zM312 430h1v1h-1zM391 430h1v1h-1zM200 431h1v1h-1zM270 431h7v1h-7zM290 431h1v1h-1zM312 431h1v1h-1zM390 431h1v1h-1zM200 432h1v1h-1zM267 432h3v1h-3zM277 432h8v1h-8zM288 432h2v1h-2zM313 432h1v1h-1zM388 432h2v1h-2zM201 433h1v1h-1zM265 433h2v1h-2zM285 433h3v1h-3zM313 433h1v1h-1zM386 433h2v1h-2zM201 434h1v1h-1zM263 434h2v1h-2zM314 434h1v1h-1zM382 434h4v1h-4zM202 435h1v1h-1zM262 435h1v1h-1zM314 435h1v1h-1zM370 435h12v1h-12zM202 436h1v1h-1zM260 436h2v1h-2zM315 436h1v1h-1zM366 436h4v1h-4zM203 437h1v1h-1zM259 437h1v1h-1zM315 437h1v1h-1zM358 437h8v1h-8zM203 438h1v1h-1zM258 438h1v1h-1zM316 438h1v1h-1zM355 438h3v1h-3zM204 439h1v1h-1zM257 439h1v1h-1zM316 439h1v1h-1zM353 439h2v1h-2zM204 440h1v1h-1zM256 440h1v1h-1zM317 440h1v1h-1zM351 440h2v1h-2zM205 441h1v1h-1zM255 441h1v1h-1zM317 441h1v1h-1zM350 441h1v1h-1zM206 442h1v1h-1zM254 442h1v1h-1zM318 442h1v1h-1zM348 442h2v1h-2zM206 443h1v1h-1zM253 443h1v1h-1zM318 443h1v1h-1zM347 443h1v1h-1zM207 444h1v1h-1zM252 444h1v1h-1zM319 444h1v1h-1zM345 444h2v1h-2zM208 445h1v1h-1zM251 445h1v1h-1zM320 445h1v1h-1zM343 445h2v1h-2zM208 446h1v1h-1zM250 446h1v1h-1zM321 446h1v1h-1zM342 446h1v1h-1zM209 447h1v1h-1zM249 447h1v1h-1zM321 447h1v1h-1zM341 447h1v1h-1zM210 448h1v1h-1zM248 448h1v1h-1zM322 448h1v1h-1zM340 448h1v1h-1zM210 449h1v1h-1zM247 449h1v1h-1zM323 449h1v1h-1zM339 449h1v1h-1zM211 450h1v1h-1zM246 450h1v1h-1zM324 450h1v1h-1zM338 450h1v1h-1zM212 451h1v1h-1zM246 451h1v1h-1zM325 451h2v1h-2zM336 451h2v1h-2zM212 452h1v1h-1zM245 452h1v1h-1zM327 452h2v1h-2zM334 452h2v1h-2zM213 453h1v1h-1zM245 453h1v1h-1zM329 453h5v1h-5zM214 454h1v1h-1zM244 454h1v1h-1zM214 455h1v1h-1zM244 455h1v1h-1zM215 456h1v1h-1zM243 456h1v1h-1zM216 457h1v1h-1zM242 457h1v1h-1zM216 458h1v1h-1zM242 458h1v1h-1zM217 459h1v1h-1zM241 459h1v1h-1zM218 460h1v1h-1zM241 460h1v1h-1zM218 461h1v1h-1zM240 461h1v1h-1zM219 462h1v1h-1zM240 462h1v1h-1zM220 463h1v1h-1zM239 463h1v1h-1zM221 464h1v1h-1zM238 464h1v1h-1zM221 465h1v1h-1zM237 465h1v1h-1zM222 466h1v1h-1zM237 466h1v1h-1zM223 467h1v1h-1zM236 467h1v1h-1zM224 468h1v1h-1zM235 468h1v1h-1zM225 469h2v1h-2zM233 469h2v1h-2zM227 470h6v1h-6z" fill="#c0c0c0"/>
<rect x="2" y="2" width="693" height="1" fill="#000"/>
<rect x="2" y="2" width="1" height="352" fill="#000"/>
<rect x="2" y="353" width="693" height="1" fill="#000"/>
<rect x="2" y="355" width="693" height="1" fill="#000"/>
<rect x="2" y="355" width="1" height="125" fill="#000"/>
<rect x="2" y="479" width="693" height="1" fill="#000"/>
<rect x="694" y="2" width="1" height="352" fill="#000"/>
<rect x="694" y="355" width="1" height="125" fill="#000"/>
<rect x="695" y="20" width="2" height="1" fill="#000"/>
<rect x="695" y="53" width="2" height="1" fill="#000"/>
<rect x="695" y="86" width="2" height="1" fill="#000"/>
<rect x="695" y="119" width="2" height="1" fill="#000"/>
<rect x="695" y="152" width="2" height="1" fill="#000"/>
<rect x="695" y="185" width="2" height="1" fill="#000"/>
<rect x="695" y="218" width="2" height="1" fill="#000"/>
<rect x="695" y="251" width="2" height="1" fill="#000"/>
<rect x="695" y="284" width="2" height="1" fill="#000"/>
<rect x="695" y="317" width="2" height="1" fill="#000"/>
<rect x="695" y="350" width="2" height="1" fill="#000"/>
<rect x="695" y="357" width="1" height="1" fill="#000"/>
<rect x="695" y="396" width="2" height="1" fill="#000"/>
<rect x="695" y="478" width="2" height="1" fill="#000"/>
<rect x="3" y="480" width="1" height="3" fill="#000"/>
<rect x="67" y="480" width="1" height="3" fill="#000"/>
<rect x="131" y="480" width="1" height="3" fill="#000"/>
<rect x="195" y="480" width="1" height="3" fill="#000"/>
<rect x="259" y="480" width="1" height="3" fill="#000"/>
<rect x="323" y="480" width="1" height="3" fill="#000"/>
<rect x="387" y="480" width="1" height="3" fill="#000"/>
<rect x="451" y="480" width="1" height="3" fill="#000"/>
<rect x="515" y="480" width="1" height="3" fill="#000"/>
<rect x="579" y="480" width="1" height="3" fill="#000"/>
<rect x="643" y="480" width="1" height="3" fill="#000"/>
<path d="M5.5 9H13.5L9.5 13Z" fill="#000"/>
</g>
<text x="700.5" y="24" font-family="Liberation Sans, Arial, sans-serif" text-rendering="geometricPrecision" font-size="10px" fill="#000" stroke="#000" stroke-width="0.3" textLength="32.5" lengthAdjust="spacingAndGlyphs" text-anchor="start">1.29980</text>
<text x="700.5" y="57" font-family="Liberation Sans, Arial, sans-serif" text-rendering="geometricPrecision" font-size="10px" fill="#000" stroke="#000" stroke-width="0.3" textLength="32.5" lengthAdjust="spacingAndGlyphs" text-anchor="start">1.29650</text>
<text x="700.5" y="90" font-family="Liberation Sans, Arial, sans-serif" text-rendering="geometricPrecision" font-size="10px" fill="#000" stroke="#000" stroke-width="0.3" textLength="32.5" lengthAdjust="spacingAndGlyphs" text-anchor="start">1.29320</text>
<text x="700.5" y="123" font-family="Liberation Sans, Arial, sans-serif" text-rendering="geometricPrecision" font-size="10px" fill="#000" stroke="#000" stroke-width="0.3" textLength="32.5" lengthAdjust="spacingAndGlyphs" text-anchor="start">1.28990</text>
<text x="700.5" y="156" font-family="Liberation Sans, Arial, sans-serif" text-rendering="geometricPrecision" font-size="10px" fill="#000" stroke="#000" stroke-width="0.3" textLength="32.5" lengthAdjust="spacingAndGlyphs" text-anchor="start">1.28660</text>
<text x="700.5" y="189" font-family="Liberation Sans, Arial, sans-serif" text-rendering="geometricPrecision" font-size="10px" fill="#000" stroke="#000" stroke-width="0.3" textLength="32.5" lengthAdjust="spacingAndGlyphs" text-anchor="start">1.28330</text>
<text x="700.5" y="222" font-family="Liberation Sans, Arial, sans-serif" text-rendering="geometricPrecision" font-size="10px" fill="#000" stroke="#000" stroke-width="0.3" textLength="32.5" lengthAdjust="spacingAndGlyphs" text-anchor="start">1.28000</text>
<text x="700.5" y="255" font-family="Liberation Sans, Arial, sans-serif" text-rendering="geometricPrecision" font-size="10px" fill="#000" stroke="#000" stroke-width="0.3" textLength="32.5" lengthAdjust="spacingAndGlyphs" text-anchor="start">1.27670</text>
<text x="700.5" y="288" font-family="Liberation Sans, Arial, sans-serif" text-rendering="geometricPrecision" font-size="10px" fill="#000" stroke="#000" stroke-width="0.3" textLength="32.5" lengthAdjust="spacingAndGlyphs" text-anchor="start">1.27340</text>
<text x="700.5" y="321" font-family="Liberation Sans, Arial, sans-serif" text-rendering="geometricPrecision" font-size="10px" fill="#000" stroke="#000" stroke-width="0.3" textLength="32.5" lengthAdjust="spacingAndGlyphs" text-anchor="start">1.27010</text>
<text x="700.5" y="354" font-family="Liberation Sans, Arial, sans-serif" text-rendering="geometricPrecision" font-size="10px" fill="#000" stroke="#000" stroke-width="0.3" textLength="32.5" lengthAdjust="spacingAndGlyphs" text-anchor="start">1.26680</text>
<g shape-rendering="crispEdges">
<rect x="696" y="6" width="41" height="11" fill="#ff0000"/>
<rect x="696" y="48" width="41" height="11" fill="#ff0000"/>
<rect x="696" y="145" width="41" height="11" fill="#ff0000"/>
<rect x="696" y="208" width="41" height="11" fill="#ff0000"/>
<rect x="696" y="339" width="41" height="11" fill="#ff0000"/>
<rect x="696" y="163" width="41" height="11" fill="#000"/>
</g>
<text x="700.5" y="15" font-family="Liberation Sans, Arial, sans-serif" text-rendering="geometricPrecision" font-size="10px" fill="#fff" stroke="#fff" stroke-width="0.15" textLength="32.5" lengthAdjust="spacingAndGlyphs" text-anchor="start">1.30066</text>
<text x="700.5" y="57" font-family="Liberation Sans, Arial, sans-serif" text-rendering="geometricPrecision" font-size="10px" fill="#fff" stroke="#fff" stroke-width="0.15" textLength="32.5" lengthAdjust="spacingAndGlyphs" text-anchor="start">1.29649</text>
<text x="700.5" y="154" font-family="Liberation Sans, Arial, sans-serif" text-rendering="geometricPrecision" font-size="10px" fill="#fff" stroke="#fff" stroke-width="0.15" textLength="32.5" lengthAdjust="spacingAndGlyphs" text-anchor="start">1.28676</text>
<text x="700.5" y="217" font-family="Liberation Sans, Arial, sans-serif" text-rendering="geometricPrecision" font-size="10px" fill="#fff" stroke="#fff" stroke-width="0.15" textLength="32.5" lengthAdjust="spacingAndGlyphs" text-anchor="start">1.28050</text>
<text x="700.5" y="348" font-family="Liberation Sans, Arial, sans-serif" text-rendering="geometricPrecision" font-size="10px" fill="#fff" stroke="#fff" stroke-width="0.15" textLength="32.5" lengthAdjust="spacingAndGlyphs" text-anchor="start">1.26738</text>
<text x="700.5" y="171" font-family="Liberation Sans, Arial, sans-serif" text-rendering="geometricPrecision" font-size="10px" fill="#fff" stroke="#fff" stroke-width="0.15" textLength="32.5" lengthAdjust="spacingAndGlyphs" text-anchor="start">1.28505</text>
<text x="698" y="366" font-family="Liberation Sans, Arial, sans-serif" text-rendering="geometricPrecision" font-size="10px" fill="#000" stroke="#000" stroke-width="0.3" textLength="43.3" lengthAdjust="spacingAndGlyphs" text-anchor="start">0.0044108</text>
<text x="698" y="400" font-family="Liberation Sans, Arial, sans-serif" text-rendering="geometricPrecision" font-size="10px" fill="#000" stroke="#000" stroke-width="0.3" textLength="17.6" lengthAdjust="spacingAndGlyphs" text-anchor="start">0.00</text>
<text x="698" y="476" font-family="Liberation Sans, Arial, sans-serif" text-rendering="geometricPrecision" font-size="10px" fill="#000" stroke="#000" stroke-width="0.3" textLength="41" lengthAdjust="spacingAndGlyphs" text-anchor="start">-0.009202</text>
<text x="18.6" y="14" font-family="Liberation Sans, Arial, sans-serif" text-rendering="geometricPrecision" font-size="10px" fill="#000" stroke="#000" stroke-width="0.3" textLength="53" lengthAdjust="spacingAndGlyphs" text-anchor="start">GBPUSD,H1</text>
<text x="79" y="14" font-family="Liberation Sans, Arial, sans-serif" text-rendering="geometricPrecision" font-size="10px" fill="#000" stroke="#000" stroke-width="0.3" textLength="32" lengthAdjust="spacingAndGlyphs" text-anchor="start">1.28244</text>
<text x="114.8" y="14" font-family="Liberation Sans, Arial, sans-serif" text-rendering="geometricPrecision" font-size="10px" fill="#000" stroke="#000" stroke-width="0.3" textLength="32" lengthAdjust="spacingAndGlyphs" text-anchor="start">1.28577</text>
<text x="151" y="14" font-family="Liberation Sans, Arial, sans-serif" text-rendering="geometricPrecision" font-size="10px" fill="#000" stroke="#000" stroke-width="0.3" textLength="32" lengthAdjust="spacingAndGlyphs" text-anchor="start">1.28222</text>
<text x="186.8" y="14" font-family="Liberation Sans, Arial, sans-serif" text-rendering="geometricPrecision" font-size="10px" fill="#000" stroke="#000" stroke-width="0.3" textLength="32" lengthAdjust="spacingAndGlyphs" text-anchor="start">1.28505</text>
<text x="7.4" y="368" font-family="Liberation Sans, Arial, sans-serif" text-rendering="geometricPrecision" font-size="10px" fill="#000" stroke="#000" stroke-width="0.3" textLength="84.3" lengthAdjust="spacingAndGlyphs" text-anchor="start">MACD_color(5,32,5)</text>
<text x="95.8" y="368" font-family="Liberation Sans, Arial, sans-serif" text-rendering="geometricPrecision" font-size="10px" fill="#000" stroke="#000" stroke-width="0.3" textLength="46.9" lengthAdjust="spacingAndGlyphs" text-anchor="start">0.00000000</text>
<text x="146.4" y="368" font-family="Liberation Sans, Arial, sans-serif" text-rendering="geometricPrecision" font-size="10px" fill="#000" stroke="#000" stroke-width="0.3" textLength="46.9" lengthAdjust="spacingAndGlyphs" text-anchor="start">0.00000000</text>
<text x="197.3" y="368" font-family="Liberation Sans, Arial, sans-serif" text-rendering="geometricPrecision" font-size="10px" fill="#000" stroke="#000" stroke-width="0.3" textLength="46.9" lengthAdjust="spacingAndGlyphs" text-anchor="start">0.00315361</text>
<text x="2.7" y="492" font-family="Liberation Sans, Arial, sans-serif" text-rendering="geometricPrecision" font-size="10px" fill="#000" stroke="#000" stroke-width="0.3" textLength="51" lengthAdjust="spacingAndGlyphs" text-anchor="start">17 Sep 2020</text>
<text x="66.7" y="492" font-family="Liberation Sans, Arial, sans-serif" text-rendering="geometricPrecision" font-size="10px" fill="#000" stroke="#000" stroke-width="0.3" textLength="54.2" lengthAdjust="spacingAndGlyphs" text-anchor="start">18 Sep 03:00</text>
<text x="130.7" y="492" font-family="Liberation Sans, Arial, sans-serif" text-rendering="geometricPrecision" font-size="10px" fill="#000" stroke="#000" stroke-width="0.3" textLength="54.2" lengthAdjust="spacingAndGlyphs" text-anchor="start">18 Sep 19:00</text>
<text x="194.7" y="492" font-family="Liberation Sans, Arial, sans-serif" text-rendering="geometricPrecision" font-size="10px" fill="#000" stroke="#000" stroke-width="0.3" textLength="54.2" lengthAdjust="spacingAndGlyphs" text-anchor="start">21 Sep 12:00</text>
<text x="258.7" y="492" font-family="Liberation Sans, Arial, sans-serif" text-rendering="geometricPrecision" font-size="10px" fill="#000" stroke="#000" stroke-width="0.3" textLength="54.2" lengthAdjust="spacingAndGlyphs" text-anchor="start">22 Sep 04:00</text>
<text x="322.7" y="492" font-family="Liberation Sans, Arial, sans-serif" text-rendering="geometricPrecision" font-size="10px" fill="#000" stroke="#000" stroke-width="0.3" textLength="54.2" lengthAdjust="spacingAndGlyphs" text-anchor="start">22 Sep 20:00</text>
<text x="386.7" y="492" font-family="Liberation Sans, Arial, sans-serif" text-rendering="geometricPrecision" font-size="10px" fill="#000" stroke="#000" stroke-width="0.3" textLength="54.2" lengthAdjust="spacingAndGlyphs" text-anchor="start">23 Sep 12:00</text>
<text x="450.7" y="492" font-family="Liberation Sans, Arial, sans-serif" text-rendering="geometricPrecision" font-size="10px" fill="#000" stroke="#000" stroke-width="0.3" textLength="54.2" lengthAdjust="spacingAndGlyphs" text-anchor="start">24 Sep 04:00</text>
<text x="514.7" y="492" font-family="Liberation Sans, Arial, sans-serif" text-rendering="geometricPrecision" font-size="10px" fill="#000" stroke="#000" stroke-width="0.3" textLength="54.2" lengthAdjust="spacingAndGlyphs" text-anchor="start">24 Sep 20:00</text>
<text x="578.7" y="492" font-family="Liberation Sans, Arial, sans-serif" text-rendering="geometricPrecision" font-size="10px" fill="#000" stroke="#000" stroke-width="0.3" textLength="54.2" lengthAdjust="spacingAndGlyphs" text-anchor="start">25 Sep 12:00</text>
<text x="642.7" y="492" font-family="Liberation Sans, Arial, sans-serif" text-rendering="geometricPrecision" font-size="10px" fill="#000" stroke="#000" stroke-width="0.3" textLength="54.2" lengthAdjust="spacingAndGlyphs" text-anchor="start">28 Sep 05:00</text>
</svg>
</body></html>
